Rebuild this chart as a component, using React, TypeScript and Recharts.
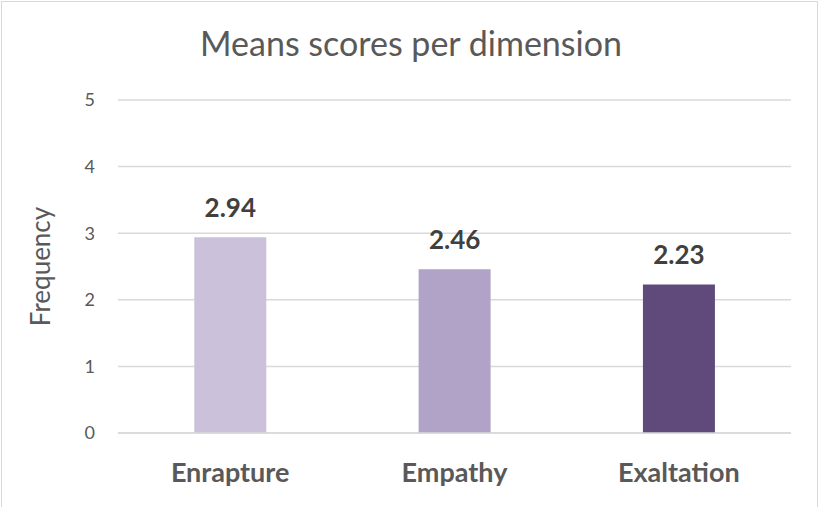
import React from "react";
import { BarChart, Bar, XAxis, YAxis, CartesianGrid, LabelList, Cell, Label } from "recharts";

const categories = ["Enrapture", "Empathy", "Exaltation"];
const means = [2.94, 2.46, 2.23];
const colors = ["#CBC1DB", "#B1A2C7", "#604A7B"];
const yTicks = [0, 1, 2, 3, 4, 5];
const title = "Means scores per dimension";
const yLabel = "Frequency";

const data = categories.map((c, i) => ({ name: c, value: means[i] }));

const FONT = "Lato, 'Open Sans', sans-serif";

export default function App() {
  return (
    <div style={{ position: "absolute", left: 0, top: 0, width: 820, height: 507, overflow: "hidden", background: "#fff", fontFamily: FONT }}>
      <div style={{ position: "absolute", left: 1, top: 1, width: 817, height: 540, border: "1.5px solid #D9D9D9", boxSizing: "border-box" }} />
      <div style={{ position: "absolute", left: 0, top: 23, width: 822, textAlign: "center", fontSize: 34, lineHeight: 1.2, color: "#595959", fontFamily: FONT }}>
        {title}
      </div>
      <div style={{ position: "absolute", left: 0, top: 0 }}>
        <BarChart width={820} height={507} data={data} margin={{ top: 100, right: 29, left: 0, bottom: 0 }} barCategoryGap="34%">
          <CartesianGrid vertical={false} stroke="#D9D9D9" strokeWidth={1.5} />
          <XAxis
            dataKey="name"
            height={74}
            axisLine={{ stroke: "#D9D9D9", strokeWidth: 1.5 }}
            tickLine={false}
            tickSize={0}
            tickMargin={30}
            tick={{ fill: "#595959", fontSize: 27, fontWeight: 700, fontFamily: FONT }}
          />
          <YAxis
            width={118}
            domain={[0, 5]}
            ticks={yTicks}
            axisLine={false}
            tickLine={false}
            tickSize={0}
            tickMargin={23}
            tick={{ fill: "#595959", fontSize: 18, fontFamily: FONT }}
          >
            <Label value={yLabel} angle={-90} position="insideLeft" offset={41} style={{ fill: "#595959", fontSize: 26, fontFamily: FONT, textAnchor: "middle" }} />
          </YAxis>
          <Bar dataKey="value" isAnimationActive={false}>
            {data.map((d, i) => (
              <Cell key={d.name} fill={colors[i]} />
            ))}
            <LabelList dataKey="value" position="top" offset={20} style={{ fill: "#404040", fontSize: 26, fontWeight: 700, fontFamily: FONT }} formatter={(v: number) => v.toFixed(2)} />
          </Bar>
        </BarChart>
      </div>
    </div>
  );
}
